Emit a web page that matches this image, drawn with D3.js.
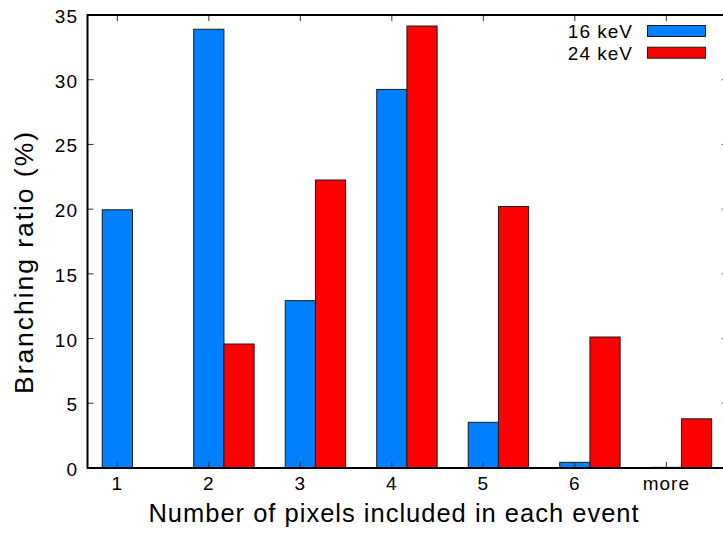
<!DOCTYPE html>
<html>
<head>
<meta charset="utf-8">
<script src="https://cdn.jsdelivr.net/npm/d3@7"></script>
<style>
  html, body { margin: 0; padding: 0; background: #fff; }
  svg { display: block; font-family: "Liberation Sans", Arial, Helvetica, sans-serif; }
</style>
</head>
<body>
<svg id="chart" width="723" height="534"></svg>
<script>
// Branching ratio of events by number of pixels hit
const categories = ["1", "2", "3", "4", "5", "6", "more"];
const seriesNames = ["16 keV", "24 keV"];
const values16keV = [19.95, 33.9, 12.93, 29.25, 3.53, 0.44, 0.05];
const values24keV = [0, 9.58, 22.25, 34.15, 20.2, 10.12, 3.8];
const yTicks = [0, 5, 10, 15, 20, 25, 30, 35];
const colors = ["#0080ff", "#ff0000"];

const svg = d3.select("#chart");
const plotLeft = 87.5, plotRight = 728, plotTop = 15, plotBottom = 468;

const x = d3.scaleLinear().domain([-0.326, categories.length - 0.326]).range([plotLeft, plotRight]);
const y = d3.scaleLinear().domain([0, 35]).range([plotBottom, plotTop]);

const barW = 0.33;
const series = [values16keV, values24keV];

// bars: first series centred on the category, second to its right
series.forEach((vals, s) => {
  svg.append("g").selectAll("rect")
    .data(vals.map((v, i) => ({ v, i })).filter(d => d.v > 0))
    .join("rect")
    .attr("x", d => x(d.i - barW / 2 + s * barW))
    .attr("y", d => y(d.v))
    .attr("width", d => x(d.i + barW) - x(d.i))
    .attr("height", d => y(0) - y(d.v))
    .attr("fill", colors[s])
    .attr("stroke", "#1a1a1a")
    .attr("stroke-width", 1);
});

// inward ticks on all four sides
const tickLen = 6;
const tg = svg.append("g").attr("stroke", "#333").attr("stroke-width", 1);
yTicks.forEach(t => {
  tg.append("line").attr("x1", plotLeft).attr("x2", plotLeft + tickLen).attr("y1", y(t)).attr("y2", y(t));
  tg.append("line").attr("x1", plotRight - tickLen).attr("x2", plotRight).attr("y1", y(t)).attr("y2", y(t));
});
categories.forEach((c, i) => {
  tg.append("line").attr("x1", x(i)).attr("x2", x(i)).attr("y1", plotBottom).attr("y2", plotBottom - tickLen);
  tg.append("line").attr("x1", x(i)).attr("x2", x(i)).attr("y1", plotTop).attr("y2", plotTop + tickLen);
});

// frame
svg.append("rect")
  .attr("x", plotLeft).attr("y", plotTop)
  .attr("width", plotRight - plotLeft).attr("height", plotBottom - plotTop)
  .attr("fill", "none").attr("stroke", "#000").attr("stroke-width", 2);

// tick labels
svg.append("g").selectAll("text").data(yTicks).join("text")
  .attr("x", 78).attr("y", d => y(d) + 8)
  .attr("text-anchor", "end").attr("font-size", 19).attr("letter-spacing", 1).text(d => d);

svg.append("g").selectAll("text").data(categories).join("text")
  .attr("x", (d, i) => x(i)).attr("y", 490)
  .attr("text-anchor", "middle").attr("font-size", 19).attr("letter-spacing", 1).text(d => d);

// axis titles
svg.append("text").attr("x", 394).attr("y", 522)
  .attr("text-anchor", "middle").attr("font-size", 25.5).attr("letter-spacing", 1)
  .text("Number of pixels included in each event");

svg.append("text")
  .attr("transform", "translate(33,263) rotate(-90)")
  .attr("text-anchor", "middle").attr("font-size", 26.5)
  .attr("textLength", 262).attr("lengthAdjust", "spacing")
  .text("Branching ratio (%)");

// legend
const lg = svg.append("g");
seriesNames.forEach((n, s) => {
  const cy = 31 + s * 21.7;
  lg.append("text").attr("x", 633).attr("y", cy + 7)
    .attr("text-anchor", "end").attr("font-size", 19).attr("letter-spacing", 1).text(n);
  lg.append("rect").attr("x", 647.5).attr("y", cy - 5.5).attr("width", 58).attr("height", 11)
    .attr("fill", colors[s]).attr("stroke", "#1a1a1a").attr("stroke-width", 1);
});
</script>
</body>
</html>
